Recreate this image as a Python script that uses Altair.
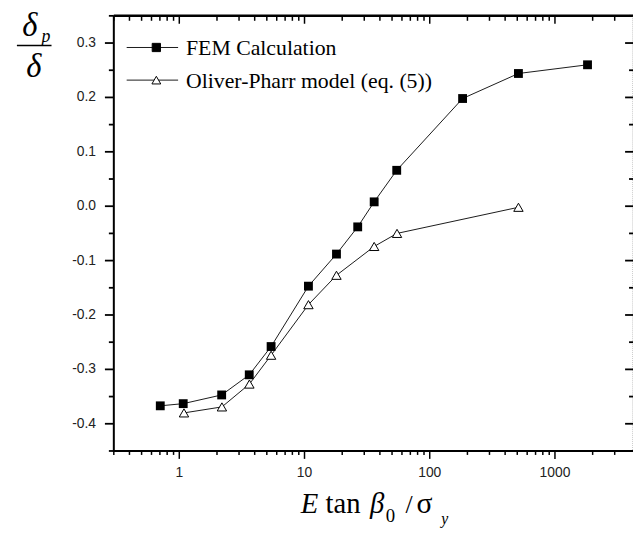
import altair as alt
import pandas as pd

# ---- data ----
series = ["FEM Calculation", "Oliver-Pharr model (eq. (5))"]
fem_x = [0.705, 1.075, 2.18, 3.62, 5.41, 10.75, 18.0, 26.6, 36.0, 54.5, 183, 511, 1820]
fem_y = [-0.367, -0.363, -0.347, -0.310, -0.258, -0.147, -0.088, -0.038, 0.008, 0.066, 0.198, 0.244, 0.260]
op_x = [1.09, 2.19, 3.63, 5.41, 10.75, 18.0, 36.0, 54.8, 511]
op_y = [-0.380, -0.369, -0.327, -0.274, -0.181, -0.127, -0.074, -0.050, -0.002]

x_major = [1, 10, 100, 1000]
x_labels = ["1", "10", "100", "1000"]
x_minor = [0.3, 0.4, 0.5, 0.6, 0.7, 0.8, 0.9,
           2, 3, 4, 5, 6, 7, 8, 9,
           20, 30, 40, 50, 60, 70, 80, 90,
           200, 300, 400, 500, 600, 700, 800, 900,
           2000, 3000]
y_major = [-0.4, -0.3, -0.2, -0.1, 0.0, 0.1, 0.2, 0.3]
y_labels = ["-0.4", "-0.3", "-0.2", "-0.1", "0.0", "0.1", "0.2", "0.3"]
y_minor = [-0.45, -0.35, -0.25, -0.15, -0.05, 0.05, 0.15, 0.25, 0.35]
x_domain = [0.3, 4200]
y_domain = [-0.45, 0.35]

W, H = 525, 440
SERIF = "Liberation Serif"
SANS = "Liberation Sans"

df = pd.DataFrame({
    "x": fem_x + op_x,
    "y": fem_y + op_y,
    "series": [series[0]] * len(fem_x) + [series[1]] * len(op_x),
})

xs = alt.Scale(type="log", domain=x_domain, nice=False)
ys = alt.Scale(domain=y_domain, nice=False, zero=False)
X = lambda f: alt.X(f, scale=xs, axis=None)
Y = lambda f: alt.Y(f, scale=ys, axis=None)

base = alt.Chart(df)
lines = base.mark_line(color="black", strokeWidth=0.9).encode(
    x=X("x:Q"), y=Y("y:Q"), detail="series:N")
sq = base.transform_filter(alt.datum.series == series[0]).mark_point(
    shape="square", filled=True, color="black", size=80, opacity=1
).encode(x=X("x:Q"), y=Y("y:Q"))
tri = base.transform_filter(alt.datum.series == series[1]).mark_point(
    shape="triangle-up", filled=True, fill="white", stroke="black", strokeWidth=1, size=90, opacity=1
).encode(x=X("x:Q"), y=Y("y:Q"))

# frame, ticks and tick labels
def rule_x(vals, y0, y1):
    return alt.Chart(pd.DataFrame({"v": vals})).mark_rule(color="black", strokeWidth=1.5).encode(
        x=X("v:Q"), y=alt.value(y0), y2=alt.value(y1))

def rule_y(vals, x0, x1, shift=0):
    return alt.Chart(pd.DataFrame({"v": vals})).mark_rule(
        color="black", strokeWidth=1.8, xOffset=shift, x2Offset=shift
    ).encode(y=Y("v:Q"), x=alt.value(x0), x2=alt.value(x1))

one = pd.DataFrame({"a": [0]})
frame = [
    alt.Chart(one).mark_rule(color="black", strokeWidth=2.5).encode(
        x=alt.value(0), x2=alt.value(W), y=alt.value(0)),
    alt.Chart(one).mark_rule(color="black", strokeWidth=2).encode(
        x=alt.value(0), x2=alt.value(W), y=alt.value(H)),
    alt.Chart(one).mark_rule(color="black", strokeWidth=2).encode(
        x=alt.value(0), y=alt.value(0), y2=alt.value(H + 1)),
    alt.Chart(one).mark_rule(color="#999", strokeWidth=1, strokeDash=[1, 1]).encode(
        x=alt.value(W), y=alt.value(0), y2=alt.value(H)),
]
ticks = [
    rule_x(x_major, 0, 8), rule_x(x_minor, 0, 5),
    rule_x(x_major, H, H + 8), rule_x(x_minor, H, H + 4),
    rule_y(y_major, W - 8, W), rule_y(y_minor, W - 4, W),
    rule_y(y_major, 0, 9, shift=-9), rule_y(y_minor, 0, 5, shift=-5),
]
xlab = alt.Chart(pd.DataFrame({"v": x_major, "t": x_labels})).mark_text(
    align="center", baseline="middle", font=SANS, fontSize=14, color="#222"
).encode(x=X("v:Q"), y=alt.value(H + 22), text="t:N")
ylab = alt.Chart(pd.DataFrame({"v": y_major, "t": y_labels})).mark_text(
    align="right", baseline="middle", font=SANS, fontSize=14, color="#222"
).encode(y=Y("v:Q"), x=alt.value(-18), text="t:N")

# legend
leg = []
for i, (name, shape, fill) in enumerate([(series[0], "square", "black"), (series[1], "triangle-up", "white")]):
    yy = 32 + i * 33
    d = pd.DataFrame({"label": [name]})
    leg.append(alt.Chart(d).mark_rule(color="black", strokeWidth=0.9).encode(
        x=alt.value(13), x2=alt.value(65), y=alt.value(yy)))
    leg.append(alt.Chart(d).mark_point(shape=shape, filled=True, fill=fill, stroke="black",
                                       strokeWidth=1, size=70 if i == 0 else 80, opacity=1).encode(
        x=alt.value(43), y=alt.value(yy)))
    leg.append(alt.Chart(d).mark_text(align="left", baseline="middle", font=SERIF, fontSize=22,
                                      color="black").encode(
        x=alt.value(73), y=alt.value(yy + 1), text="label:N"))

# axis titles built from pieces
def txt(s, x, y, size, italic=True, align="left", baseline="alphabetic"):
    return alt.Chart(pd.DataFrame({"t": [s]})).mark_text(
        align=align, baseline=baseline, font=SERIF, fontSize=size,
        fontStyle="italic" if italic else "normal", color="black"
    ).encode(x=alt.value(x), y=alt.value(y), text="t:N")

ytitle = [
    txt("\u03b4", -85, 20, 33, align="center"),
    txt("p", -73, 26, 18),
    alt.Chart(one).mark_rule(color="black", strokeWidth=1.5).encode(
        x=alt.value(-98), x2=alt.value(-63), y=alt.value(30)),
    txt("\u03b4", -81, 62, 33, align="center"),
]
xtitle = [
    txt("E", 189, 503, 29),
    txt("tan", 214, 503, 29, italic=False),
    txt("\u03b2", 259, 503, 29),
    txt("0", 275, 512, 19, italic=False),
    txt("/", 295, 503, 26, italic=False),
    txt("\u03c3", 306, 503, 30, italic=False),
    txt("y", 331, 514, 16),
]

chart = alt.layer(
    lines, sq, tri, *frame, *ticks, xlab, ylab,
    *leg, *ytitle, *xtitle
).properties(
    width=W, height=H,
    autosize=alt.AutoSizeParams(type="none"),
    padding={"left": 107, "top": 5, "right": 0, "bottom": 78},
).configure_view(stroke=None).configure(background="white")

chart.save("out.html", embed_options={"renderer": "svg", "actions": False})
